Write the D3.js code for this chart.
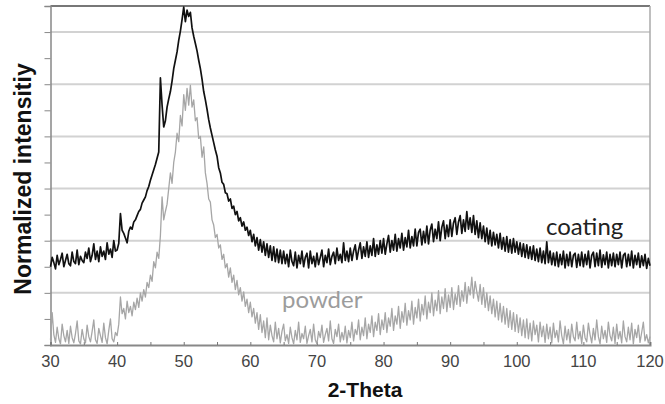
<!DOCTYPE html>
<html>
<head>
<meta charset="utf-8">
<script src="https://cdnjs.cloudflare.com/ajax/libs/d3/7.8.5/d3.min.js"></script>
<style>
  body { margin: 0; background: #fff; }
  svg { display: block; }
</style>
</head>
<body>
<div id="chart"></div>
<script>
// sampled every 0.25 degree from 30 to 120 (2-Theta), one row = 5 degrees
var angleStart = 30;
var angleStep = 0.25;

// coating pattern
var coating = [
  1.50, 1.68, 1.58, 1.46, 1.72, 1.54, 1.64, 1.76, 1.50, 1.62, 1.74, 1.56, 1.52, 1.78, 1.60, 1.56, 1.82, 1.54, 1.70, 1.62,
  1.58, 1.78, 1.66, 1.86, 1.60, 1.72, 1.94, 1.64, 1.80, 1.60, 1.88, 1.70, 1.80, 1.64, 1.96, 1.74, 1.84, 1.68, 2.00, 1.80,
  1.82, 1.95, 2.52, 2.20, 2.14, 2.05, 1.96, 2.18, 2.26, 2.22, 2.36, 2.40, 2.48, 2.56, 2.60, 2.72, 2.78, 2.84, 2.96, 3.04,
  3.16, 3.26, 3.36, 3.46, 3.58, 3.70, 5.12, 4.60, 4.18, 4.30, 4.56, 4.72, 4.86, 5.06, 5.30, 5.46, 5.62, 5.84, 6.02, 6.24,
  6.48, 6.20, 6.42, 6.30, 6.38, 6.08, 5.92, 5.78, 5.64, 5.46, 5.30, 5.10, 4.86, 4.70, 4.52, 4.32, 4.16, 4.02, 3.88, 3.74,
  3.62, 3.40, 3.30, 3.12, 3.08, 2.92, 2.90, 2.76, 2.80, 2.62, 2.66, 2.50, 2.56, 2.38, 2.44, 2.28, 2.36, 2.20, 2.26, 2.10,
  2.20, 1.98, 2.12, 1.90, 2.06, 1.82, 2.02, 1.78, 1.98, 1.72, 1.94, 1.68, 1.90, 1.62, 1.88, 1.60, 1.84, 1.58, 1.82, 1.56,
  1.80, 1.56, 1.74, 1.50, 1.82, 1.60, 1.52, 1.78, 1.48, 1.72, 1.56, 1.80, 1.50, 1.68, 1.76, 1.48, 1.80, 1.56, 1.70, 1.50,
  1.76, 1.54, 1.68, 1.82, 1.50, 1.72, 1.58, 1.84, 1.54, 1.70, 1.78, 1.56, 1.86, 1.62, 1.74, 1.58, 1.96, 1.62, 1.80, 1.60,
  1.86, 1.62, 1.80, 1.92, 1.64, 1.82, 1.96, 1.66, 1.88, 1.70, 1.98, 1.68, 1.90, 1.72, 2.04, 1.70, 1.92, 1.74, 2.00, 1.76,
  2.04, 1.74, 1.94, 2.10, 1.78, 2.00, 1.82, 2.12, 1.80, 2.04, 1.86, 2.14, 1.82, 2.06, 1.88, 2.20, 1.86, 2.08, 1.90, 2.22,
  1.90, 2.16, 2.22, 1.92, 2.18, 1.96, 2.28, 1.94, 2.20, 2.32, 1.98, 2.22, 2.04, 2.36, 2.00, 2.26, 2.38, 2.04, 2.30, 2.08,
  2.40, 2.08, 2.34, 2.44, 2.12, 2.36, 2.48, 2.14, 2.40, 2.18, 2.56, 2.22, 2.44, 2.16, 2.48, 2.12, 2.38, 2.06, 2.34, 2.04,
  2.28, 1.98, 2.24, 1.94, 2.20, 1.90, 2.16, 1.92, 2.12, 1.86, 2.14, 1.84, 2.06, 1.80, 2.08, 1.78, 2.02, 1.76, 2.04, 1.78,
  1.98, 1.74, 1.96, 1.70, 1.94, 1.68, 1.92, 1.66, 1.88, 1.64, 1.90, 1.62, 1.84, 1.60, 1.86, 1.58, 1.80, 1.56, 1.98, 1.58,
  1.80, 1.54, 1.76, 1.52, 1.78, 1.50, 1.74, 1.54, 1.80, 1.48, 1.74, 1.52, 1.78, 1.50, 1.72, 1.76, 1.49, 1.74, 1.52, 1.78,
  1.50, 1.74, 1.54, 1.80, 1.48, 1.72, 1.78, 1.50, 1.76, 1.52, 1.82, 1.49, 1.73, 1.54, 1.78, 1.48, 1.74, 1.52, 1.76, 1.50,
  1.74, 1.54, 1.78, 1.48, 1.72, 1.76, 1.50, 1.74, 1.52, 1.80, 1.48, 1.72, 1.54, 1.76, 1.49, 1.71, 1.52, 1.74, 1.47, 1.66,
  1.52
];

// powder pattern
var powder = [
  0.10, 0.62, 0.20, 0.05, 0.34, 0.12, 0.02, 0.40, 0.18, 0.06, 0.28, 0.03, 0.36, 0.14, 0.04, 0.22, 0.46, 0.08, 0.02, 0.30,
  0.12, 0.04, 0.38, 0.16, 0.06, 0.26, 0.48, 0.10, 0.03, 0.32, 0.18, 0.05, 0.42, 0.14, 0.02, 0.28, 0.50, 0.12, 0.06, 0.24,
  0.18, 0.40, 0.92, 0.60, 0.70, 0.50, 0.84, 0.62, 0.74, 0.56, 0.82, 0.68, 0.90, 0.72, 1.00, 0.84, 1.06, 0.92, 1.20, 1.10,
  1.34, 1.22, 1.60, 1.48, 1.78, 1.66, 2.10, 2.84, 2.40, 2.56, 2.70, 3.00, 3.30, 3.10, 3.50, 3.70, 4.06, 3.90, 4.40, 4.20,
  4.80, 4.50, 4.92, 4.60, 4.98, 4.56, 4.70, 4.30, 4.36, 3.96, 4.00, 3.60, 3.80, 3.30, 3.10, 2.80, 2.74, 2.40, 2.30, 2.06,
  2.12, 1.86, 1.92, 1.64, 1.74, 1.48, 1.56, 1.30, 1.48, 1.20, 1.34, 1.06, 1.24, 0.96, 1.10, 0.84, 1.02, 0.74, 0.88, 0.62,
  0.82, 0.54, 0.70, 0.42, 0.62, 0.30, 0.58, 0.24, 0.46, 0.14, 0.52, 0.10, 0.38, 0.18, 0.06, 0.44, 0.12, 0.32, 0.04, 0.26,
  0.40, 0.08, 0.20, 0.03, 0.34, 0.14, 0.02, 0.28, 0.10, 0.44, 0.05, 0.22, 0.12, 0.36, 0.03, 0.18, 0.30, 0.06, 0.40, 0.10,
  0.02, 0.26, 0.14, 0.38, 0.05, 0.20, 0.32, 0.08, 0.46, 0.12, 0.03, 0.30, 0.16, 0.40, 0.06, 0.24, 0.10, 0.36, 0.04, 0.28,
  0.14, 0.44, 0.08, 0.30, 0.20, 0.48, 0.10, 0.34, 0.18, 0.52, 0.12, 0.40, 0.24, 0.56, 0.16, 0.44, 0.28, 0.60, 0.20, 0.48,
  0.30, 0.62, 0.24, 0.52, 0.36, 0.70, 0.28, 0.56, 0.40, 0.74, 0.32, 0.64, 0.44, 0.80, 0.38, 0.66, 0.48, 0.84, 0.40, 0.72,
  0.52, 0.88, 0.46, 0.78, 0.58, 0.94, 0.50, 0.82, 0.62, 1.00, 0.56, 0.86, 0.66, 1.04, 0.60, 0.92, 0.70, 1.08, 0.64, 0.96,
  0.72, 1.10, 0.68, 0.98, 0.78, 1.14, 0.74, 1.04, 0.84, 1.20, 0.80, 1.12, 0.96, 1.30, 0.90, 1.22, 1.02, 0.84, 1.16, 0.78,
  1.10, 0.72, 1.00, 0.66, 0.94, 0.60, 0.88, 0.54, 0.84, 0.48, 0.80, 0.44, 0.74, 0.40, 0.70, 0.34, 0.66, 0.30, 0.62, 0.26,
  0.58, 0.24, 0.52, 0.18, 0.48, 0.14, 0.50, 0.12, 0.42, 0.08, 0.46, 0.20, 0.38, 0.06, 0.44, 0.16, 0.36, 0.05, 0.40, 0.12,
  0.34, 0.04, 0.42, 0.14, 0.28, 0.06, 0.46, 0.18, 0.02, 0.36, 0.10, 0.30, 0.04, 0.40, 0.16, 0.08, 0.44, 0.12, 0.26, 0.03,
  0.38, 0.14, 0.06, 0.42, 0.20, 0.04, 0.32, 0.10, 0.48, 0.16, 0.02, 0.36, 0.12, 0.28, 0.05, 0.44, 0.18, 0.08, 0.34, 0.03,
  0.40, 0.12, 0.26, 0.04, 0.46, 0.16, 0.06, 0.34, 0.10, 0.42, 0.02, 0.30, 0.14, 0.38, 0.05, 0.24, 0.44, 0.08, 0.20, 0.04,
  0.16
];

var xTicks = [30, 40, 50, 60, 70, 80, 90, 100, 110, 120];
var gridValues = [1, 2, 3, 4, 5, 6];

var width = 665;
var height = 404;

var svg = d3.select("#chart")
  .append("svg")
  .attr("width", width)
  .attr("height", height);

// scales
var xScale = d3.scaleLinear().domain([30, 120]).range([50.5, 650]);
var yScale = d3.scaleLinear().domain([0, 6.5]).range([345, 6]);

// horizontal grid lines
svg.append("g")
  .selectAll("line")
  .data(gridValues)
  .enter()
  .append("line")
  .attr("x1", xScale(30))
  .attr("x2", xScale(120))
  .attr("y1", function(d) { return yScale(d); })
  .attr("y2", function(d) { return yScale(d); })
  .attr("stroke", "#d2d2d2")
  .attr("stroke-width", 2);

// top and right frame
svg.append("line")
  .attr("x1", xScale(30)).attr("x2", xScale(120))
  .attr("y1", yScale(6.5)).attr("y2", yScale(6.5))
  .attr("stroke", "#777").attr("stroke-width", 2);
svg.append("line")
  .attr("x1", xScale(120)).attr("x2", xScale(120))
  .attr("y1", yScale(6.5)).attr("y2", yScale(0))
  .attr("stroke", "#aaa").attr("stroke-width", 1.5);

// y axis: ticks only, no labels
var yAxis = d3.axisLeft(yScale)
  .tickValues(d3.range(0, 6.51, 0.5))
  .tickSize(6)
  .tickFormat("");
var yG = svg.append("g")
  .attr("transform", "translate(" + xScale(30) + ",0)")
  .call(yAxis);
yG.select(".domain").attr("stroke", "#888").attr("stroke-width", 1.5);
yG.selectAll(".tick line").attr("stroke", "#888");

// x axis: small ticks pointing up, every 5 degrees
var xAxis = d3.axisBottom(xScale)
  .tickValues(d3.range(30, 120.1, 5))
  .tickSize(-3)
  .tickFormat("");
var xG = svg.append("g")
  .attr("transform", "translate(0," + yScale(0) + ")")
  .call(xAxis);
xG.select(".domain").attr("stroke", "#888").attr("stroke-width", 2);
xG.selectAll(".tick line").attr("stroke", "#777");

// x tick labels
svg.append("g")
  .selectAll("text")
  .data(xTicks)
  .enter()
  .append("text")
  .attr("x", function(d) { return xScale(d); })
  .attr("y", 367)
  .attr("text-anchor", "middle")
  .attr("font-family", "'Liberation Sans', Arial, sans-serif")
  .attr("font-size", 16.5)
  .attr("fill", "#444")
  .text(function(d) { return d; });

// lines
var line = d3.line()
  .x(function(d, i) { return xScale(angleStart + i * angleStep); })
  .y(function(d) { return yScale(d); });

svg.append("path")
  .datum(powder)
  .attr("d", line)
  .attr("fill", "none")
  .attr("stroke", "#a6a6a6")
  .attr("stroke-width", 1.3)
  .attr("stroke-linejoin", "round");

svg.append("path")
  .datum(coating)
  .attr("d", line)
  .attr("fill", "none")
  .attr("stroke", "#111")
  .attr("stroke-width", 1.7)
  .attr("stroke-linejoin", "round");

// series labels
svg.append("text")
  .attr("x", 546)
  .attr("y", 235)
  .attr("font-family", "Lato, sans-serif")
  .attr("font-size", 24)
  .attr("fill", "#222")
  .text("coating");

svg.append("text")
  .attr("x", 282)
  .attr("y", 308)
  .attr("font-family", "Lato, sans-serif")
  .attr("font-size", 24)
  .attr("fill", "#9c9c9c")
  .text("powder");

// axis titles
svg.append("text")
  .attr("x", 365)
  .attr("y", 397)
  .attr("text-anchor", "middle")
  .attr("font-family", "'Liberation Sans', Arial, sans-serif")
  .attr("font-weight", "bold")
  .attr("font-size", 21)
  .attr("fill", "#111")
  .text("2-Theta");

svg.append("text")
  .attr("transform", "translate(31,179) rotate(-90)")
  .attr("text-anchor", "middle")
  .attr("font-family", "'Liberation Sans', Arial, sans-serif")
  .attr("font-weight", "bold")
  .attr("font-size", 23)
  .attr("fill", "#111")
  .text("Normalized intensitiy");
</script>
</body>
</html>
